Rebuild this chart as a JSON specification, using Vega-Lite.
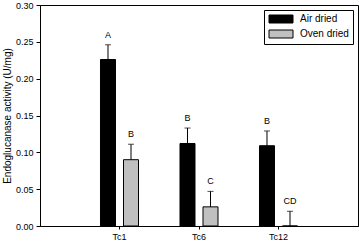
{
  "$schema": "https://vega.github.io/schema/vega-lite/v6.json",
  "width": 318,
  "height": 221,
  "autosize": {"type": "none"},
  "padding": {"left": 40, "top": 5, "right": 1, "bottom": 16},
  "config": {
    "font": "Liberation Sans",
    "view": {"stroke": "black", "strokeWidth": 1},
    "axis": {"domainColor": "black", "tickColor": "black", "labelColor": "black", "titleColor": "black", "grid": false, "labelFontSize": 9, "labelOverlap": false}
  },
  "data": {
    "values": [
      {"sample": "Tc1", "treatment": "Air dried", "value": 0.226, "upper": 0.246, "label": "A"},
      {"sample": "Tc1", "treatment": "Oven dried", "value": 0.090, "upper": 0.111, "label": "B"},
      {"sample": "Tc6", "treatment": "Air dried", "value": 0.112, "upper": 0.133, "label": "B"},
      {"sample": "Tc6", "treatment": "Oven dried", "value": 0.026, "upper": 0.047, "label": "C"},
      {"sample": "Tc12", "treatment": "Air dried", "value": 0.109, "upper": 0.129, "label": "B"},
      {"sample": "Tc12", "treatment": "Oven dried", "value": 0.0, "upper": 0.020, "label": "CD"}
    ]
  },
  "encoding": {
    "x": {
      "field": "sample", "type": "nominal", "sort": ["Tc1", "Tc6", "Tc12"],
      "scale": {"paddingInner": 0.522, "paddingOuter": 0.761},
      "axis": {"title": null, "labelAngle": 0, "tickSize": 3, "labelPadding": 3}
    },
    "xOffset": {
      "field": "treatment", "type": "nominal", "sort": ["Air dried", "Oven dried"],
      "scale": {"paddingInner": 0.348, "paddingOuter": 0}
    }
  },
  "layer": [
    {
      "mark": {"type": "bar", "stroke": "black", "strokeWidth": 1},
      "encoding": {
        "y": {
          "field": "value", "type": "quantitative",
          "scale": {"domain": [0, 0.3], "nice": false},
          "axis": {"title": "Endoglucanase activity (U/mg)", "titleFontSize": 10, "titleFontWeight": "normal", "titlePadding": 3, "values": [0, 0.05, 0.1, 0.15, 0.2, 0.25, 0.3], "tickCount": 7, "labelOverlap": false, "format": ".2f", "tickSize": 4, "labelPadding": 3}
        },
        "fill": {
          "field": "treatment", "type": "nominal",
          "scale": {"domain": ["Air dried", "Oven dried"], "range": ["#000000", "#c0c0c0"]},
          "legend": {"title": null, "orient": "none", "legendX": 224, "legendY": 5, "symbolType": "M-1,-1H5V1H-1Z", "symbolSize": 64, "symbolStrokeColor": "black", "symbolStrokeWidth": 1, "symbolOpacity": 1, "labelFontSize": 10, "labelOffset": 22, "labelColor": "black", "strokeColor": "black", "fillColor": "white", "padding": 4, "rowPadding": 3}
        }
      }
    },
    {
      "mark": {"type": "rule", "color": "black", "strokeWidth": 1},
      "encoding": {
        "y": {"field": "value", "type": "quantitative"},
        "y2": {"field": "upper"}
      }
    },
    {
      "mark": {"type": "tick", "color": "black", "size": 6, "thickness": 1},
      "encoding": {
        "y": {"field": "upper", "type": "quantitative"}
      }
    },
    {
      "mark": {"type": "text", "dy": -10, "fontSize": 9, "color": "black"},
      "encoding": {
        "y": {"field": "upper", "type": "quantitative"},
        "text": {"field": "label"}
      }
    }
  ]
}
